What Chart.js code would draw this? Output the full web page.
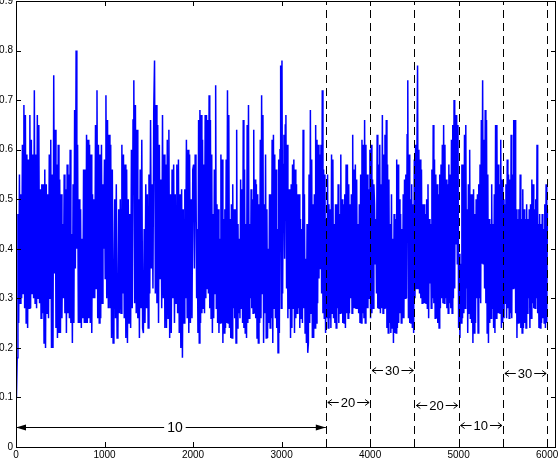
<!DOCTYPE html>
<html>
<head>
<meta charset="utf-8">
<script src="https://cdn.jsdelivr.net/npm/chart.js@4.4.1/dist/chart.umd.min.js"></script>
<style>
  html, body { margin: 0; padding: 0; background: #fff; overflow: hidden; }
  body { width: 560px; height: 458px; position: relative; }
  #chart { position: absolute; left: -20px; top: -20px; }
</style>
</head>
<body>
<canvas id="chart" width="600" height="500"></canvas>
<script>
// signal, one list per ~1000 samples (peaks / troughs)
const chunk0 = [0.10,0.18,0.47,0.25,0.55,0.29,0.51,0.30,0.61,0.31,0.69,0.28,0.67,0.25,0.59,0.24,0.58,0.28,0.67,0.28,
  0.62,0.31,0.59,0.30,0.72,0.29,0.59,0.28,0.67,0.30,0.65,0.29,0.52,0.26,0.53,0.27,0.53,0.21,0.56,0.20,
  0.53,0.27,0.51,0.26,0.59,0.30,0.62,0.20,0.55,0.20,0.75,0.35,0.64,0.24,0.57,0.22,0.61,0.23,0.54,0.23,
  0.51,0.26,0.45,0.30,0.55,0.27,0.52,0.23,0.57,0.27,0.55,0.26,0.60,0.25,0.43,0.21,0.53,0.25,0.68,0.36,
  0.80,0.40,0.61,0.25,0.50,0.25,0.48,0.24,0.42,0.26,0.56,0.25,0.56,0.25,0.63,0.25,0.62,0.26,0.61,0.25,
  0.59,0.23,0.51,0.30,0.50,0.30,0.65,0.32,0.72,0.26,0.61,0.25,0.59,0.26,0.61,0.29,0.53,0.40,0.58,0.34];
const chunk1 = [0.71,0.30,0.66,0.28,0.63,0.28,0.61,0.22,0.56,0.21,0.29,0.50,0.26,0.53,0.22,0.23,0.48,0.27,0.50,0.27,
  0.61,0.31,0.59,0.26,0.57,0.22,0.56,0.21,0.50,0.25,0.47,0.24,0.60,0.28,0.66,0.74,0.29,0.69,0.27,0.64,
  0.26,0.50,0.22,0.56,0.28,0.62,0.24,0.23,0.44,0.25,0.53,0.28,0.51,0.24,0.55,0.31,0.66,0.36,0.53,0.32,
  0.68,0.78,0.31,0.69,0.29,0.65,0.25,0.61,0.34,0.54,0.28,0.67,0.30,0.59,0.24,0.57,0.24,0.62,0.26,0.64,
  0.22,0.51,0.23,0.56,0.30,0.57,0.25,0.51,0.29,0.57,0.27,0.58,0.23,0.51,0.20,0.52,0.18,0.48,0.25,0.52,
  0.30,0.62,0.26,0.60,0.23,0.59,0.25,0.50,0.26,0.56,0.57,0.36,0.59];
const chunk2 = [0.55,0.30,0.44,0.23,0.66,0.21,0.68,0.25,0.67,0.27,0.62,0.28,0.57,0.27,0.67,0.30,0.67,0.32,0.66,
  0.31,0.71,0.28,0.66,0.26,0.59,0.23,0.47,0.26,0.56,0.31,0.73,0.28,0.49,0.25,0.48,0.23,0.42,0.25,0.59,
  0.25,0.58,0.21,0.46,0.23,0.48,0.24,0.58,0.25,0.72,0.25,0.67,0.24,0.46,0.22,0.49,0.22,0.53,0.28,0.48,
  0.26,0.48,0.21,0.64,0.24,0.45,0.27,0.42,0.26,0.54,0.28,0.52,0.25,0.66,0.24,0.56,0.23,0.45,0.22,0.65,
  0.25,0.69,0.26,0.45,0.30,0.52,0.28,0.50,0.27,0.64,0.27,0.54,0.26,0.53,0.22,0.51,0.21,0.49,0.25,0.62,
  0.26,0.71,0.31,0.67,0.21,0.49,0.27,0.59,0.22,0.48,0.22,0.40,0.25,0.51,0.24,0.51,0.26,0.62,0.21,0.63,
  0.28,0.59,0.26,0.56,0.24,0.44,0.19,0.58,0.23,0.60,0.77,0.28,0.78,0.31,0.57,0.63,0.38,0.65];
const chunk3 = [0.67,0.32,0.61,0.26,0.52,0.28,0.52,0.22,0.53,0.24,0.57,0.28,0.58,0.23,0.56,0.26,0.53,0.27,0.51,
  0.28,0.51,0.24,0.46,0.26,0.44,0.25,0.64,0.28,0.51,0.23,0.38,0.21,0.45,0.19,0.21,0.55,0.25,0.68,0.27,
  0.58,0.22,0.49,0.22,0.51,0.24,0.65,0.25,0.62,0.29,0.61,0.34,0.59,0.36,0.61,0.31,0.72,0.27,0.56,0.26,
  0.55,0.23,0.46,0.26,0.55,0.24,0.49,0.26,0.48,0.24,0.59,0.27,0.58,0.26,0.45,0.25,0.49,0.24,0.49,0.28,
  0.53,0.25,0.47,0.27,0.59,0.27,0.50,0.25,0.49,0.25,0.51,0.24,0.57,0.27,0.57,0.26,0.53,0.27,0.49,0.30,
  0.51,0.27,0.63,0.28,0.56,0.28,0.57,0.28,0.54,0.28,0.45,0.27,0.49,0.25,0.55,0.25,0.62,0.27,0.61,0.26,
  0.66,0.25,0.61,0.28,0.55,0.28,0.52,0.30,0.60,0.26,0.61,0.27,0.54,0.28,0.53,0.49,0.37];
const chunk4 = [0.46,0.31,0.63,0.28,0.57,0.28,0.61,0.27,0.53,0.28,0.67,0.27,0.59,0.28,0.63,0.28,0.66,0.24,0.57,
  0.23,0.54,0.25,0.45,0.23,0.51,0.24,0.42,0.21,0.47,0.23,0.46,0.23,0.58,0.24,0.57,0.25,0.50,0.27,0.47,
  0.25,0.44,0.26,0.51,0.26,0.54,0.30,0.55,0.30,0.63,0.74,0.26,0.59,0.25,0.50,0.25,0.53,0.24,0.49,0.23,
  0.58,0.30,0.61,0.32,0.59,0.77,0.32,0.60,0.31,0.58,0.30,0.56,0.29,0.49,0.29,0.49,0.29,0.47,0.29,0.50,
  0.28,0.53,0.26,0.46,0.33,0.45,0.28,0.56,0.30,0.65,0.29,0.58,0.26,0.55,0.26,0.53,0.25,0.51,0.24,0.55,
  0.28,0.57,0.30,0.61,0.29,0.65,0.29,0.61,0.30,0.54,0.28,0.53,0.27,0.57,0.29,0.55,0.28,0.62,0.27,0.65,
  0.30,0.70,0.32,0.67,0.41,0.67,0.37,0.65,0.24,0.39,0.22,0.37,0.25,0.57,0.26,0.57,0.27,0.63,0.28];
const chunk5 = [0.65,0.32,0.48,0.23,0.53,0.27,0.60,0.26,0.51,0.25,0.51,0.21,0.52,0.23,0.47,0.25,0.50,0.30,0.51,
  0.23,0.53,0.30,0.57,0.29,0.66,0.37,0.74,0.37,0.62,0.32,0.68,0.29,0.66,0.23,0.55,0.21,0.46,0.25,0.45,
  0.26,0.53,0.28,0.45,0.24,0.51,0.23,0.65,0.26,0.65,0.27,0.57,0.27,0.53,0.27,0.62,0.24,0.54,0.25,0.50,
  0.26,0.49,0.29,0.53,0.26,0.58,0.28,0.55,0.26,0.54,0.27,0.63,0.26,0.55,0.32,0.66,0.32,0.66,0.27,0.48,
  0.22,0.46,0.25,0.48,0.25,0.55,0.24,0.46,0.23,0.52,0.24,0.48,0.25,0.46,0.24,0.49,0.27,0.46,0.30,0.48,
  0.24,0.49,0.26,0.54,0.29,0.53,0.28,0.48,0.28,0.50,0.30,0.61,0.27,0.45,0.24,0.47,0.24,0.45,0.25,0.47,
  0.26,0.44,0.25,0.49,0.24,0.53,0.25,0.48];

const chunks = [chunk0, chunk1, chunk2, chunk3, chunk4, chunk5];
const chunkStart = [5, 1016, 2033, 3049, 4065, 5081];
const chunkEnd = [1016, 2033, 3049, 4065, 5081, 6010];

// regions marked under the trace
const segStart = [0, 3500, 4000, 4500, 5000, 5500];
const segEnd = [3500, 4000, 4500, 5000, 5500, 6000];
const segLabel = ['10', '20', '30', '20', '10', '30'];
const segLevel = [0.041, 0.090, 0.155, 0.085, 0.044, 0.149];
const dashedAt = [3500, 4000, 4500, 5000, 5500, 6000];

const xTicks = [0, 1000, 2000, 3000, 4000, 5000, 6000];
const yTicks = [0, 0.1, 0.2, 0.3, 0.4, 0.5, 0.6, 0.7, 0.8, 0.9];

let points = [];
chunks.forEach((vals, k) => {
    let t0 = chunkStart[k], t1 = chunkEnd[k];
    vals.forEach((v, j) => points.push({x: t0 + (t1 - t0) * j / vals.length, y: v}));
});

function arrowHead(ctx, x, y, dir) {
    ctx.beginPath();
    ctx.moveTo(x + dir * 4, y - 3);
    ctx.lineTo(x, y);
    ctx.lineTo(x + dir * 4, y + 3);
    ctx.stroke();
}

const extras = {
    id: 'extras',
    afterDatasetsDraw(chart) {
        let ctx = chart.ctx;
        let a = chart.chartArea;
        let xs = chart.scales.x, ys = chart.scales.y;
        ctx.save();
        ctx.strokeStyle = '#000';
        ctx.fillStyle = '#000';
        ctx.lineWidth = 1;

        // dashed separators
        ctx.setLineDash([8, 5]);
        dashedAt.forEach(t => {
            let px = Math.round(xs.getPixelForValue(t)) + 0.5;
            ctx.beginPath();
            ctx.moveTo(px, a.bottom);
            ctx.lineTo(px, a.top);
            ctx.stroke();
        });
        ctx.setLineDash([]);

        // box and inward ticks
        ctx.strokeRect(a.left + 0.5, a.top + 0.5, a.right - a.left - 1, a.bottom - a.top);
        ctx.beginPath();
        xTicks.forEach(t => {
            let px = Math.round(xs.getPixelForValue(t)) + 0.5;
            ctx.moveTo(px, a.bottom); ctx.lineTo(px, a.bottom - 5);
            ctx.moveTo(px, a.top); ctx.lineTo(px, a.top + 5);
        });
        yTicks.forEach(v => {
            let py = Math.round(ys.getPixelForValue(v)) + 0.5;
            ctx.moveTo(a.left, py); ctx.lineTo(a.left + 5, py);
            ctx.moveTo(a.right, py); ctx.lineTo(a.right - 5, py);
        });
        ctx.stroke();

        // arrows with labels
        ctx.textAlign = 'center';
        ctx.textBaseline = 'middle';
        segLabel.forEach((lab, k) => {
            let x0 = xs.getPixelForValue(segStart[k]);
            let x1 = xs.getPixelForValue(segEnd[k]);
            let py = Math.round(ys.getPixelForValue(segLevel[k])) + 0.5;
            let mid = (x0 + x1) / 2;
            if (k === 0) {
                ctx.font = '14px "Liberation Sans", Arial, sans-serif';
                mid += 4;
                let w = ctx.measureText(lab).width;
                ctx.beginPath();
                ctx.moveTo(x0, py); ctx.lineTo(mid - w / 2 - 3, py);
                ctx.moveTo(mid + w / 2 + 3, py); ctx.lineTo(x1, py);
                ctx.stroke();
                ctx.beginPath();
                ctx.moveTo(x0, py); ctx.lineTo(x0 + 10, py - 3); ctx.lineTo(x0 + 10, py + 3);
                ctx.closePath(); ctx.fill();
                ctx.beginPath();
                ctx.moveTo(x1, py); ctx.lineTo(x1 - 10, py - 3); ctx.lineTo(x1 - 10, py + 3);
                ctx.closePath(); ctx.fill();
            } else {
                ctx.font = '13px "Liberation Sans", Arial, sans-serif';
                let w = ctx.measureText(lab).width;
                let l0 = x0 + 2, l1 = mid - w / 2 - 2;
                let r0 = mid + w / 2 + 2, r1 = x1 - 1;
                ctx.beginPath();
                ctx.moveTo(l0, py); ctx.lineTo(l1, py);
                ctx.moveTo(r0, py); ctx.lineTo(r1, py);
                ctx.stroke();
                arrowHead(ctx, l0, py, 1);
                arrowHead(ctx, r1, py, -1);
            }
            ctx.fillText(lab, mid, py + 1);
        });
        ctx.restore();
    }
};

let chart = new Chart(document.getElementById('chart'), {
    type: 'line',
    data: {
        datasets: [{
            data: points,
            borderColor: '#0000ff',
            borderWidth: 1.5,
            pointRadius: 0,
            tension: 0,
            fill: false
        }]
    },
    options: {
        responsive: false,
        animation: false,
        parsing: false,
        layout: {padding: {top: 21, right: 24, bottom: 13, left: 0}},
        plugins: {legend: {display: false}, tooltip: {enabled: false}},
        scales: {
            x: {
                type: 'linear',
                min: 0,
                max: 6100,
                grid: {display: false, drawTicks: false},
                border: {display: false},
                afterBuildTicks: s => { s.ticks = xTicks.map(v => ({value: v})); },
                afterFit: s => { s.height = 20; },
                ticks: {
                    color: '#000',
                    padding: 2,
                    maxRotation: 0,
                    font: {family: '"Liberation Sans", Arial, sans-serif', size: 10},
                    callback: v => String(v)
                }
            },
            y: {
                min: 0,
                max: 0.9,
                grid: {display: false, drawTicks: false},
                border: {display: false},
                afterBuildTicks: s => { s.ticks = yTicks.map(v => ({value: v})); },
                afterFit: s => { s.width = 36; },
                ticks: {
                    color: '#000',
                    padding: 3,
                    font: {family: '"Liberation Sans", Arial, sans-serif', size: 10},
                    callback: v => v === 0 ? '0' : v.toFixed(1)
                }
            }
        }
    },
    plugins: [extras]
});
</script>
</body>
</html>
